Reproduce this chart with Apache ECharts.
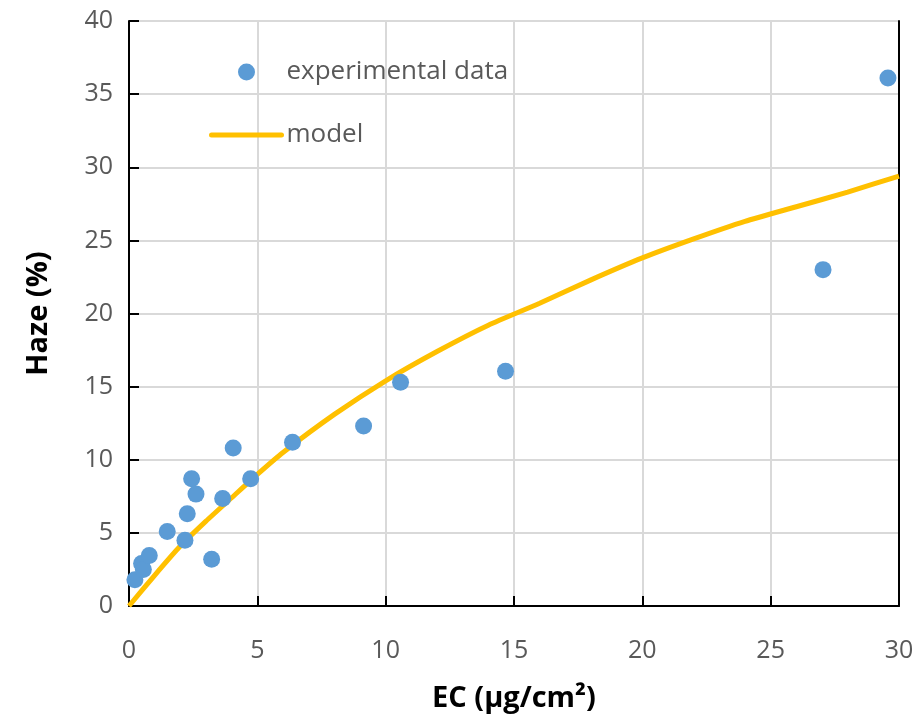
<!DOCTYPE html>
<html>
<head>
<meta charset="utf-8">
<script src="https://cdn.jsdelivr.net/npm/echarts@6/dist/echarts.min.js"></script>
<style>
  html, body { margin: 0; padding: 0; background: #fff; }
  #chart { width: 921px; height: 722px; }
</style>
</head>
<body>
<div id="chart"></div>
<script>
// measured points (EC in ug/cm2, haze in %)
var expEC = [0.23, 0.49, 0.56, 0.79, 1.49, 2.18, 2.27, 2.44, 2.61, 3.22, 3.65, 4.06, 4.74, 6.37, 9.14, 10.58, 14.67, 27.04, 29.57];
var expHaze = [1.8, 2.9, 2.5, 3.45, 5.1, 4.5, 6.3, 8.7, 7.65, 3.2, 7.35, 10.8, 8.7, 11.2, 12.3, 15.3, 16.05, 23.0, 36.1];

// model curve
var modelEC = [0, 1, 2, 3, 4, 5, 6, 8, 10, 12, 14, 16, 18, 20, 22, 24, 26, 28, 30];
var modelHaze = [0, 2.1, 4.1, 5.8, 7.4, 9.0, 10.5, 13.1, 15.4, 17.4, 19.2, 20.7, 22.3, 23.8, 25.1, 26.3, 27.3, 28.3, 29.4];

var xTicks = [0, 5, 10, 15, 20, 25, 30];
var yTicks = [0, 5, 10, 15, 20, 25, 30, 35, 40];

var font = "'Open Sans', sans-serif";
var gridColor = "#d9d9d9";

var chart = echarts.init(document.getElementById("chart"));

var option = {
    animation: false,
    backgroundColor: "#fff",
    grid: { left: 129, right: 22, top: 21, bottom: 116 },
    legend: {
        orient: "vertical",
        left: 209,
        top: 59,
        padding: 0,
        itemWidth: 70,
        itemHeight: 17,
        itemGap: 37,
        textStyle: { fontFamily: font, fontSize: 26, color: "#595959" },
        data: [
            { name: "experimental data", icon: "circle" },
            { name: "model", itemStyle: { opacity: 0 }, lineStyle: { width: 5, color: "#FFC000", cap: "round" } }
        ]
    },
    xAxis: {
        type: "value",
        min: xTicks[0],
        max: xTicks[xTicks.length - 1],
        interval: 5,
        name: "EC (µg/cm²)",
        nameLocation: "middle",
        nameGap: 78,
        nameTextStyle: { fontFamily: font, fontSize: 29, fontWeight: "bold", color: "#000" },
        axisLine: { lineStyle: { color: "#000", width: 2 } },
        axisTick: { inside: true, length: 10, lineStyle: { color: "#000", width: 2 } },
        axisLabel: { margin: 32, fontFamily: font, fontSize: 25, color: "#595959" },
        splitLine: { lineStyle: { color: gridColor, width: 2 } }
    },
    yAxis: [{
        type: "value",
        min: yTicks[0],
        max: yTicks[yTicks.length - 1],
        interval: 5,
        name: "Haze (%)",
        nameLocation: "middle",
        nameGap: 76,
        nameTextStyle: { fontFamily: font, fontSize: 29, fontWeight: "bold", color: "#000" },
        axisLine: { show: true, lineStyle: { color: "#000", width: 2 } },
        axisTick: { show: true, inside: true, length: 10, lineStyle: { color: "#000", width: 2 } },
        axisLabel: { margin: 16, fontFamily: font, fontSize: 25, color: "#595959" },
        splitLine: { lineStyle: { color: gridColor, width: 2 } }
    }, {
        // right border line only
        type: "value",
        position: "right",
        min: 0,
        max: 40,
        interval: 5,
        axisLine: { show: true, lineStyle: { color: "#000", width: 2 } },
        axisTick: { show: false },
        axisLabel: { show: false },
        splitLine: { show: false }
    }],
    series: [
        {
            name: "model",
            type: "line",
            symbol: "none",
            smooth: 0.2,
            z: 2,
            lineStyle: { color: "#FFC000", width: 5 },
            itemStyle: { color: "#FFC000" },
            data: modelEC.map(function (x, i) { return [x, modelHaze[i]]; })
        },
        {
            name: "experimental data",
            type: "scatter",
            symbolSize: 17,
            z: 3,
            itemStyle: { color: "#5B9BD5", opacity: 1 },
            data: expEC.map(function (x, i) { return [x, expHaze[i]]; })
        }
    ]
};

chart.setOption(option);
</script>
</body>
</html>
